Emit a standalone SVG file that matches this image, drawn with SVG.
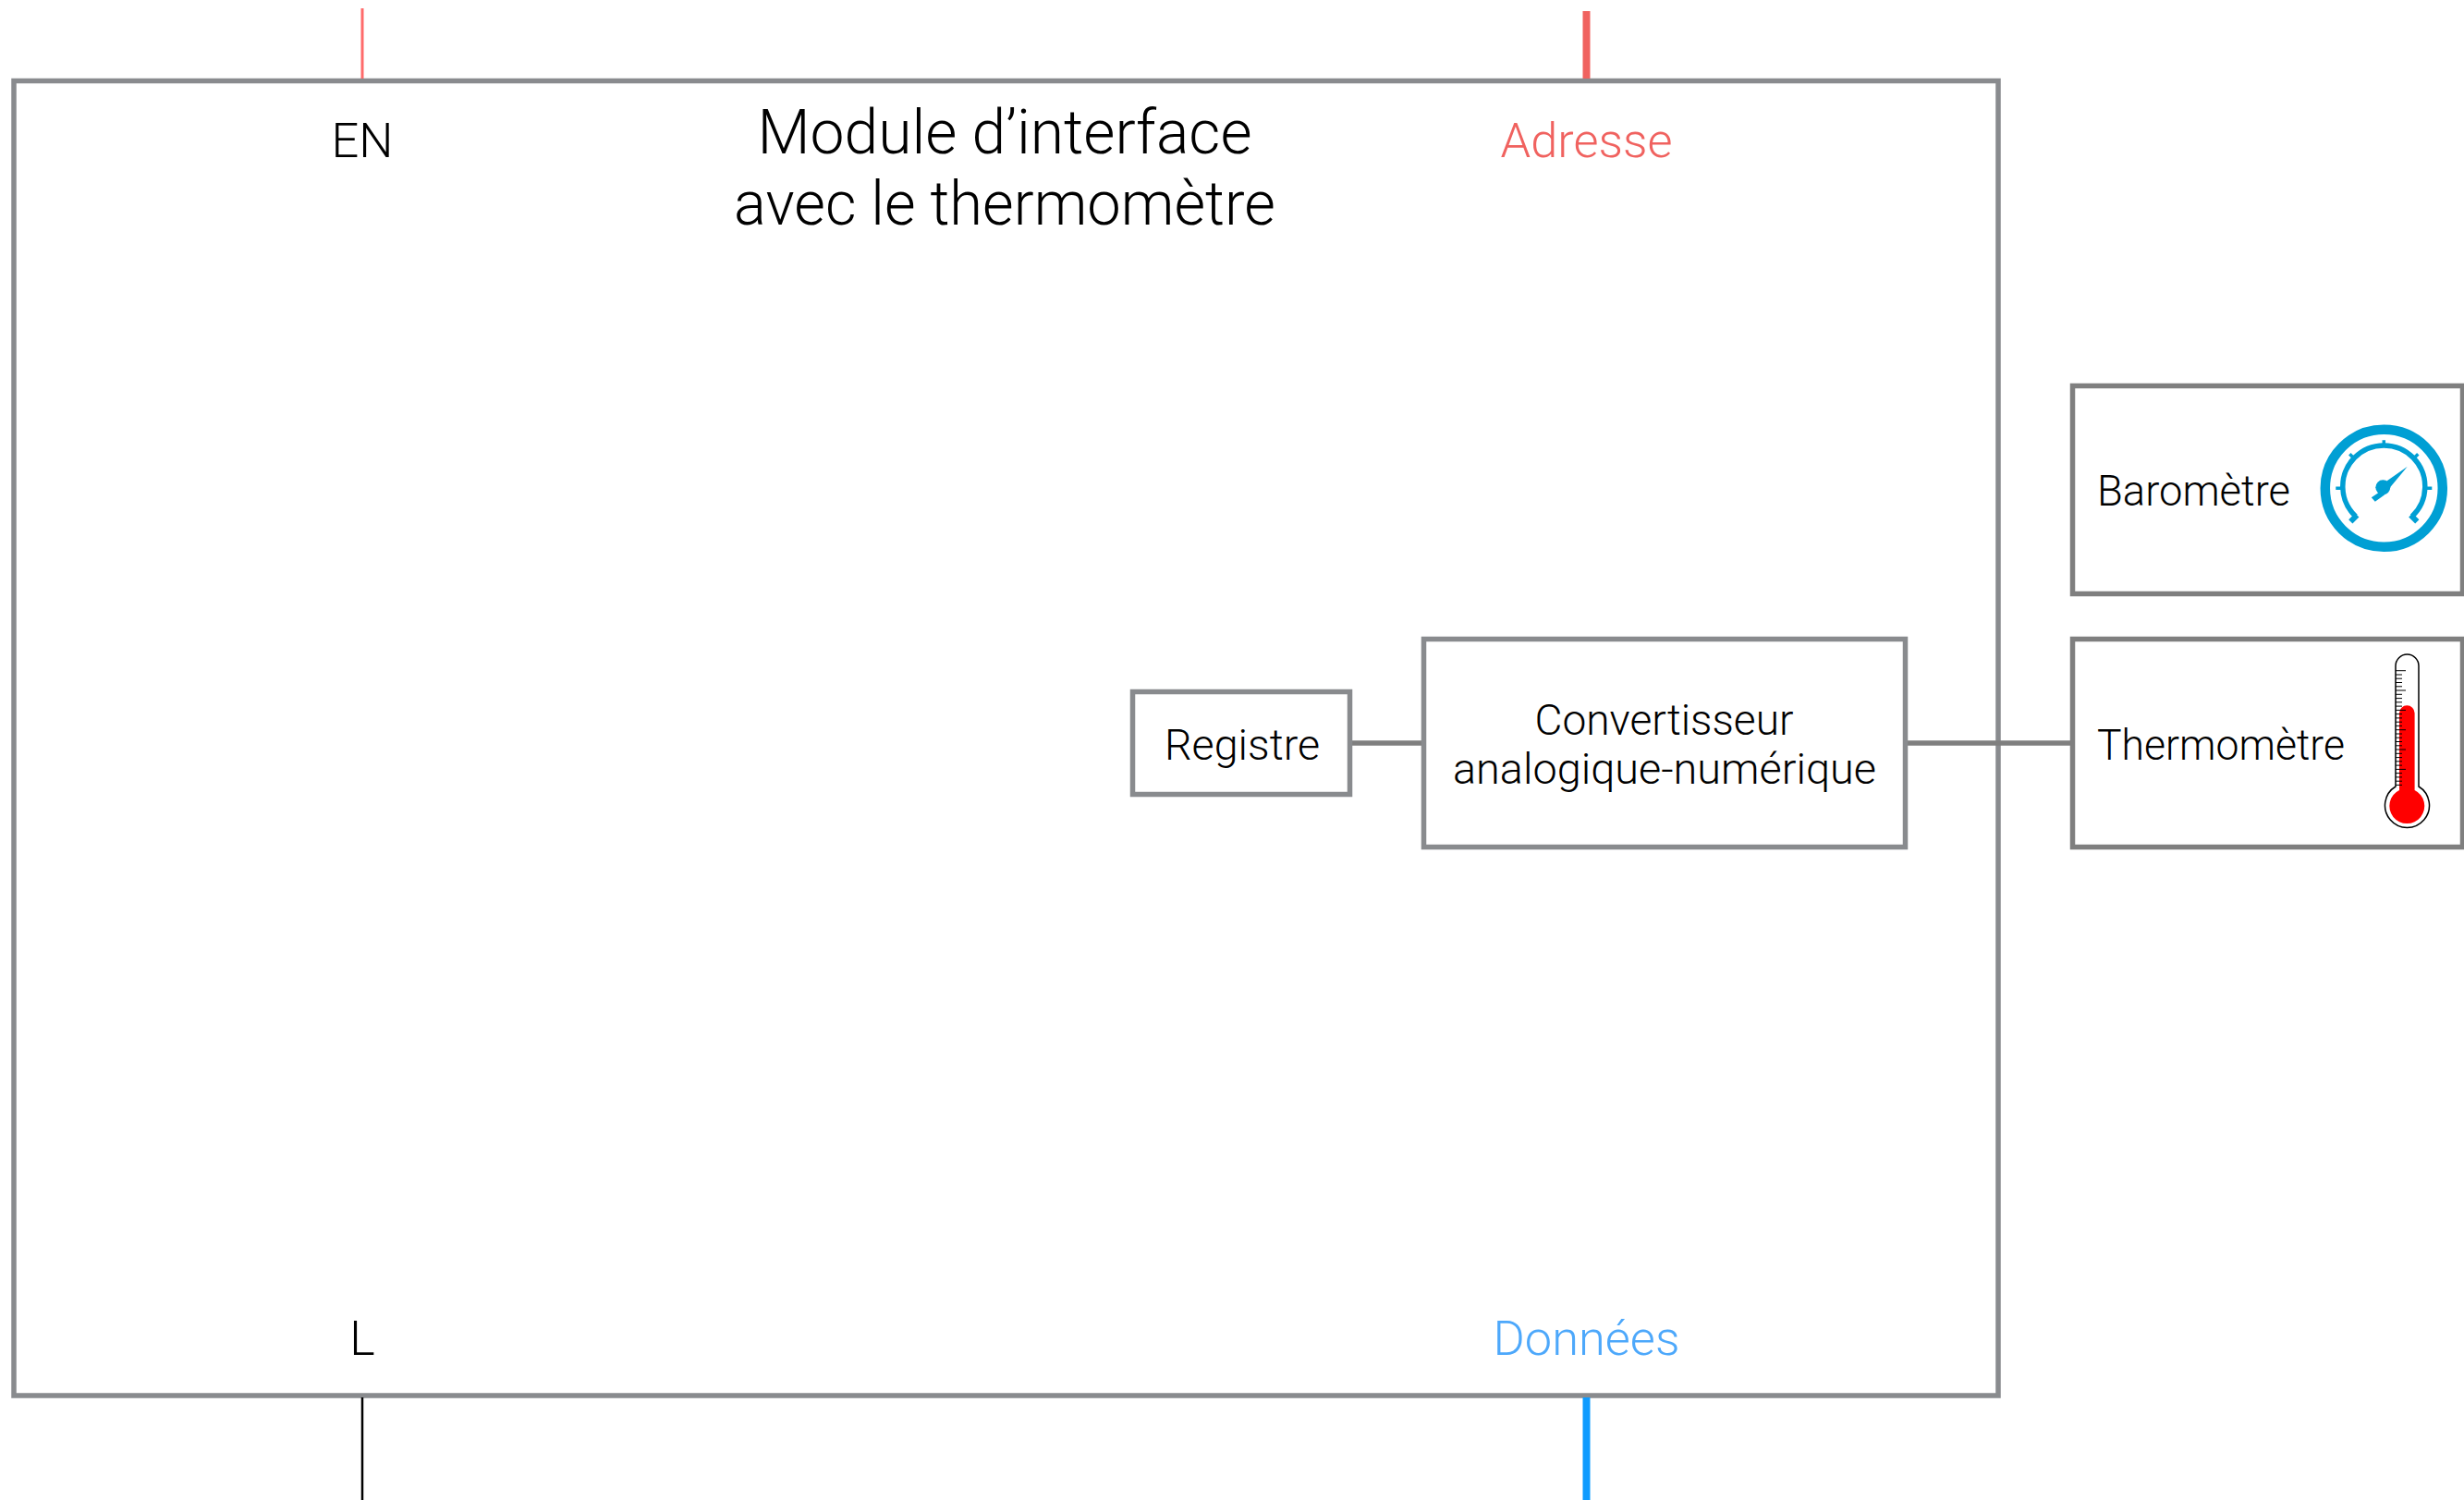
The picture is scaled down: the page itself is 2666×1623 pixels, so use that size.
<svg xmlns="http://www.w3.org/2000/svg" width="2666" height="1623" viewBox="0 0 2666 1623">
<style>
text{font-family:"Roboto","Liberation Sans",sans-serif;font-weight:300;font-size:46px;fill:#000}
.m{text-anchor:middle}
.t{font-size:66px}
.p{font-size:52px}
.box{fill:#fff;stroke:#898b8e;stroke-width:5.5}
.box2{fill:#fff;stroke:#7f7f7f;stroke-width:5.5}
.c{fill:none;stroke:#7f7f7f;stroke-width:5.5}
.g{fill:none;stroke:#009fd4}
.tick{stroke:#000;stroke-width:1}
</style>
<rect width="2666" height="1623" fill="#fff"/>
<g id="module"><rect class="box" x="15" y="87.5" width="2147" height="1422.5"/>
<text class="m t" x="1087" y="166" textLength="535" lengthAdjust="spacingAndGlyphs">Module d’interface</text>
<text class="m t" x="1087" y="243" textLength="586" lengthAdjust="spacingAndGlyphs">avec le thermomètre</text>
<text class="m p" x="392" y="170" textLength="67" lengthAdjust="spacingAndGlyphs">EN</text>
<text class="m p" x="1716.5" y="170" style="fill:#f0625f" textLength="186" lengthAdjust="spacingAndGlyphs">Adresse</text>
<text class="m p" x="392" y="1466">L</text>
<text class="m p" x="1716.5" y="1466" style="fill:#4da8fb" textLength="202" lengthAdjust="spacingAndGlyphs">Données</text>
</g>
<g id="connectors">
<path d="M392 9V85" fill="none" stroke="#ff6b6b" stroke-width="3"/>
<path d="M1716.5 12V85" fill="none" stroke="#f0625f" stroke-width="8"/>
<path d="M392 1512V1623" fill="none" stroke="#000" stroke-width="2.5"/>
<path d="M1716.5 1512V1623" fill="none" stroke="#0e9bff" stroke-width="8"/>
<path class="c" d="M1463 804H1538M2064 804H2240"/>
</g>
<g id="registre"><rect class="box" x="1225.5" y="748.5" width="235" height="111"/>
<text class="m" x="1344" y="821.500" textLength="168" lengthAdjust="spacingAndGlyphs">Registre</text></g>
<g id="convertisseur"><rect class="box" x="1540.5" y="691.5" width="521" height="225"/>
<text class="m" x="1800.500" y="794.500" textLength="280" lengthAdjust="spacingAndGlyphs">Convertisseur</text>
<text class="m" x="1801" y="847.500" textLength="458" lengthAdjust="spacingAndGlyphs">analogique-numérique</text></g>
<g id="barometre"><rect class="box2" x="2242.5" y="417.5" width="422" height="225"/>
<text x="2269" y="546.500" textLength="209" lengthAdjust="spacingAndGlyphs">Baromètre</text>
<g id="gauge" transform="translate(2579.3 528.3)">
<circle class="g" r="63.5" stroke-width="10.500"/>
<path class="g" stroke-width="5.500" d="M-30.500 30.500A44.500 44.500 0 1 1 30.500 30.500"/>
<path class="g" stroke-width="3.500" d="M0 -45V-52M-32 -32L-37 -37M32 -32L37 -37M-45 0H-52M45 0H52"/>
<path class="g" stroke-width="6" d="M-29 29L-36 36M29 29L36 36"/>
<circle cx="-1" cy="-1" r="8" fill="#009fd4"/>
<path fill="#009fd4" d="M25.500 -23.500L2 -7L6 0ZM-3 3L-13.500 10L-9.500 14.500L1 7Z"/>
</g></g>
<g id="thermometre"><rect class="box2" x="2242.5" y="691.5" width="422" height="225"/>
<text x="2269" y="821.500" textLength="268" lengthAdjust="spacingAndGlyphs">Thermomètre</text>
<g id="thermo">
<path fill="#fff" stroke="#000" stroke-width="1.500" d="M2592 851V720.500A12.500 12.500 0 0 1 2617 720.500V851A24 24 0 1 1 2592 851Z"/>
<path fill="#f00" d="M2596 855V771.500A8.300 8.300 0 0 1 2612.600 771.500V855A19 19 0 1 1 2596 855Z"/>
<path class="tick" d="M2592 725.700H2603M2592 730H2599M2592 734.200H2599M2592 738.500H2599M2592 742.800H2599M2592 747H2603M2592 751.300H2599M2592 755.600H2599M2592 759.800H2599M2592 764.100H2599M2592 768.400H2603M2592 772.600H2599M2592 776.900H2599M2592 781.200H2599M2592 785.400H2599M2592 789.700H2603M2592 794H2599M2592 798.200H2599M2592 802.500H2599M2592 806.800H2599M2592 811H2603M2592 815.300H2599M2592 819.600H2599M2592 823.800H2599M2592 828.100H2599M2592 832.400H2603M2592 836.600H2599M2592 840.900H2599M2592 845.200H2599M2592 849.400H2599"/>
</g></g>
</svg>
